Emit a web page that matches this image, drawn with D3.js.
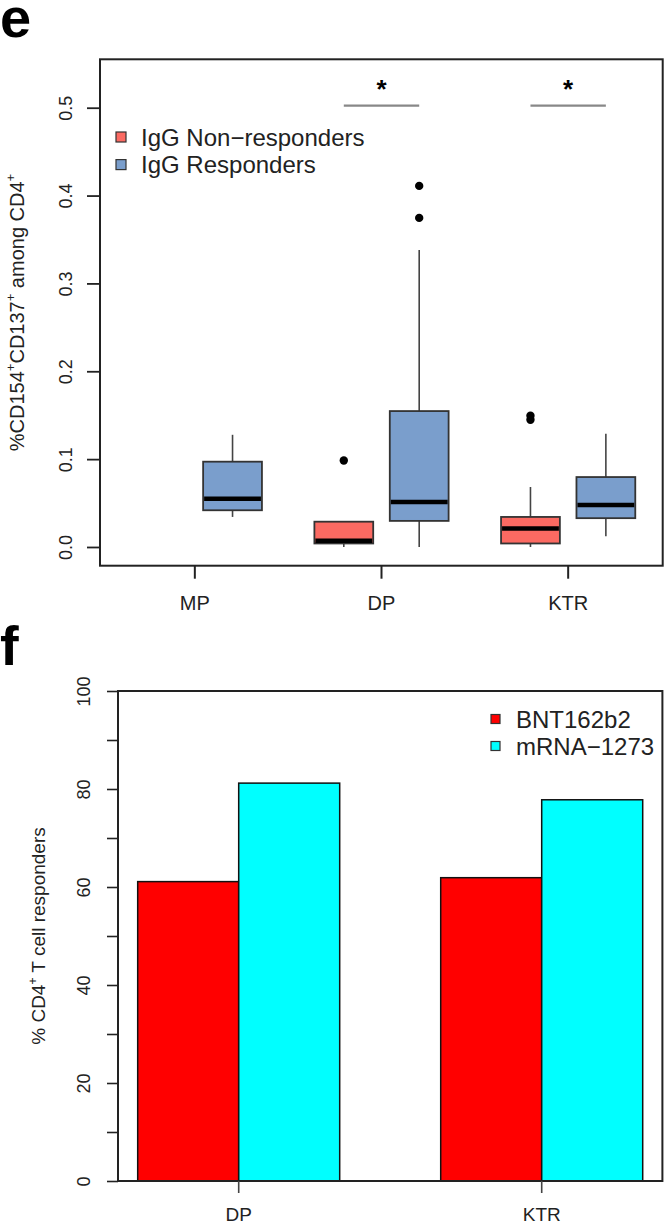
<!DOCTYPE html>
<html>
<head>
<meta charset="utf-8">
<script src="https://cdn.jsdelivr.net/npm/d3@7"></script>
<style>
  body { margin: 0; background: #fff; }
  svg { display: block; font-family: "Liberation Sans", Arial, sans-serif; }
</style>
</head>
<body>
<svg id="chart" width="666" height="1224"></svg>
<script>
// ---- panel e data (box plot) ----
var groups = ["MP", "DP", "KTR"];
var seriesNames = ["IgG Non-responders", "IgG Responders"];
var seriesColors = ["#fb6a62", "#7a9ecc"];

var boxGroup   = ["MP", "DP", "DP", "KTR", "KTR"];
var boxSeries  = [1, 0, 1, 0, 1];
var whiskerLow = [0.0342, 0.0, 0.0, 0.0, 0.0121];
var q1         = [0.0418, 0.0040, 0.0297, 0.0040, 0.0328];
var median     = [0.0549, 0.0072, 0.0513, 0.0211, 0.0477];
var q3         = [0.0971, 0.0288, 0.1547, 0.0342, 0.0796];
var whiskerHigh= [0.1277, 0.0288, 0.3381, 0.0683, 0.1290];
var outliers   = [[], [0.0985], [0.3746, 0.411], [0.1448, 0.1493], []];

var yTicksE = [0.0, 0.1, 0.2, 0.3, 0.4, 0.5];
var sigGroups = ["DP", "KTR"];
var sigLevel = 0.5;

// ---- panel f data (bars) ----
var vaccineGroups = ["DP", "KTR"];
var vaccines = ["BNT162b2", "mRNA-1273"];
var vaccineColors = ["#ff0000", "#00ffff"];
var bntValues  = [61.1, 61.9];
var mrnaValues = [81.2, 77.8];
var yTicksF = [0, 10, 20, 30, 40, 50, 60, 70, 80, 90, 100];

var svg = d3.select("#chart");

// panel letters
svg.append("text").attr("x", 0).attr("y", 37).attr("font-size", 56)
  .attr("font-weight", "bold").text("e");
svg.append("text").attr("x", 0).attr("y", 665).attr("font-size", 56)
  .attr("font-weight", "bold").text("f");

// ================= panel e =================
var e = { left: 100, right: 662.7, top: 59.3, bottom: 565.7 };

var xE = d3.scaleBand().domain(groups).range([101.5, 661.5]);
var subE = d3.scaleBand().domain([0, 1]).range([-75.4, 75.4]);
var yE = d3.scaleLinear().domain([-0.0213, 0.5551]).range([e.bottom, e.top]);
var boxW = subE.bandwidth() * 0.78;

var gE = svg.append("g");

function cx(i) {
  return xE(boxGroup[i]) + xE.bandwidth() / 2 + subE(boxSeries[i]) + subE.bandwidth() / 2;
}

var boxes = gE.selectAll(".box").data(boxGroup).enter().append("g").attr("class", "box");

// whiskers
boxes.append("line")
  .attr("x1", function (d, i) { return cx(i); }).attr("x2", function (d, i) { return cx(i); })
  .attr("y1", function (d, i) { return yE(whiskerHigh[i]); })
  .attr("y2", function (d, i) { return yE(q3[i]); })
  .attr("stroke", "#444").attr("stroke-width", 1.6);
boxes.append("line")
  .attr("x1", function (d, i) { return cx(i); }).attr("x2", function (d, i) { return cx(i); })
  .attr("y1", function (d, i) { return yE(q1[i]); })
  .attr("y2", function (d, i) { return yE(whiskerLow[i]); })
  .attr("stroke", "#444").attr("stroke-width", 1.6);

boxes.append("rect")
  .attr("x", function (d, i) { return cx(i) - boxW / 2; })
  .attr("width", boxW)
  .attr("y", function (d, i) { return yE(q3[i]); })
  .attr("height", function (d, i) { return yE(q1[i]) - yE(q3[i]); })
  .attr("fill", function (d, i) { return seriesColors[boxSeries[i]]; })
  .attr("stroke", "#333").attr("stroke-width", 1.8);

boxes.append("line")
  .attr("x1", function (d, i) { return cx(i) - boxW / 2 + 1; })
  .attr("x2", function (d, i) { return cx(i) + boxW / 2 - 1; })
  .attr("y1", function (d, i) { return yE(median[i]); })
  .attr("y2", function (d, i) { return yE(median[i]); })
  .attr("stroke", "#000").attr("stroke-width", 4.5);

boxes.each(function (d, i) {
  d3.select(this).selectAll("circle").data(outliers[i]).enter().append("circle")
    .attr("cx", cx(i)).attr("cy", function (v) { return yE(v); })
    .attr("r", 4.2).attr("fill", "#000");
});

// significance brackets
var sig = gE.selectAll(".sig").data(sigGroups).enter().append("g").attr("class", "sig");
sig.append("line")
  .attr("x1", function (g) { return xE(g) + xE.bandwidth() / 2 + subE(0) + subE.bandwidth() / 2; })
  .attr("x2", function (g) { return xE(g) + xE.bandwidth() / 2 + subE(1) + subE.bandwidth() / 2; })
  .attr("y1", yE(sigLevel) - 2).attr("y2", yE(sigLevel) - 2)
  .attr("stroke", "#888").attr("stroke-width", 2.2);
sig.append("text")
  .attr("x", function (g) { return xE(g) + xE.bandwidth() / 2; })
  .attr("y", yE(sigLevel) - 10)
  .attr("text-anchor", "middle").attr("font-size", 26).attr("font-weight", "bold")
  .text("*");

// frame
gE.append("rect").attr("x", e.left).attr("y", e.top)
  .attr("width", e.right - e.left).attr("height", e.bottom - e.top)
  .attr("fill", "none").attr("stroke", "#222").attr("stroke-width", 2);

// y axis
var yAxisE = gE.append("g").attr("transform", "translate(" + e.left + ",0)")
  .call(d3.axisLeft(yE).tickValues(yTicksE).tickSize(13).tickFormat(d3.format(".1f")));
yAxisE.select(".domain").remove();
yAxisE.selectAll("line").attr("stroke", "#222").attr("stroke-width", 1.8);
yAxisE.selectAll("text")
  .attr("x", 0).attr("y", -28).attr("dy", 0)
  .attr("transform", "rotate(-90)").attr("text-anchor", "middle")
  .attr("font-size", 18).attr("fill", "#222")
  .attr("font-family", "Liberation Sans, Arial, sans-serif");

// x axis
var xAxisE = gE.append("g").attr("transform", "translate(0," + e.bottom + ")")
  .call(d3.axisBottom(xE).tickSize(13).tickPadding(17));
xAxisE.select(".domain").remove();
xAxisE.selectAll("line").attr("stroke", "#222").attr("stroke-width", 2);
xAxisE.selectAll("text").attr("font-size", 20).attr("fill", "#222")
  .attr("font-family", "Liberation Sans, Arial, sans-serif");

// y title
var titleE = gE.append("text")
  .attr("transform", "translate(24," + ((e.top + e.bottom) / 2) + ") rotate(-90)")
  .attr("text-anchor", "middle").attr("font-size", 20).attr("fill", "#222");
titleE.append("tspan").text("%CD154");
titleE.append("tspan").attr("dy", -9).attr("font-size", 13).text("+");
titleE.append("tspan").attr("dy", 9).text("CD137");
titleE.append("tspan").attr("dy", -9).attr("font-size", 13).text("+");
titleE.append("tspan").attr("dy", 9).text(" among CD4");
titleE.append("tspan").attr("dy", -9).attr("font-size", 13).text("+");

// legend e
var legE = gE.selectAll(".legE").data(seriesNames).enter().append("g")
  .attr("transform", function (d, i) { return "translate(116," + (137 + i * 27.6) + ")"; });
legE.append("rect").attr("x", 0).attr("y", -5).attr("width", 10).attr("height", 10)
  .attr("fill", function (d, i) { return seriesColors[i]; })
  .attr("stroke", "#333").attr("stroke-width", 1.2);
legE.append("text").attr("x", 25).attr("y", 8.5).attr("font-size", 24).attr("fill", "#222")
  .text(function (d) { return d.replace("-", "\u2212"); });

// ================= panel f =================
var f = { left: 118, right: 662.4, top: 691, bottom: 1181 };

var xF = d3.scaleBand().domain(vaccineGroups).range([f.left, f.right])
  .paddingInner(1 / 3).paddingOuter(0.065);
var subF = d3.scaleBand().domain([0, 1]).range([0, xF.bandwidth()]);
var yF = d3.scaleLinear().domain([0, 100]).range([f.bottom, f.top]);

var gF = svg.append("g");
var valueSets = [bntValues, mrnaValues];

vaccines.forEach(function (v, s) {
  gF.selectAll(".bar" + s).data(vaccineGroups).enter().append("rect")
    .attr("x", function (g) { return xF(g) + subF(s); })
    .attr("width", subF.bandwidth())
    .attr("y", function (g, i) { return yF(valueSets[s][i]); })
    .attr("height", function (g, i) { return yF(0) - yF(valueSets[s][i]); })
    .attr("fill", vaccineColors[s])
    .attr("stroke", "#111").attr("stroke-width", 1.5);
});

// frame (left axis line, top, right, bottom)
gF.append("rect").attr("x", f.left).attr("y", f.top)
  .attr("width", f.right - f.left).attr("height", f.bottom - f.top)
  .attr("fill", "none").attr("stroke", "#222").attr("stroke-width", 2);

var yAxisF = gF.append("g").attr("transform", "translate(" + f.left + ",0)")
  .call(d3.axisLeft(yF).tickValues(yTicksF).tickSize(11)
    .tickFormat(function (d) { return d % 20 === 0 ? d : ""; }));
yAxisF.select(".domain").remove();
yAxisF.selectAll("line").attr("stroke", "#222").attr("stroke-width", 1.6);
yAxisF.selectAll("text")
  .attr("x", 0).attr("y", -28).attr("dy", 0)
  .attr("transform", "rotate(-90)").attr("text-anchor", "middle")
  .attr("font-size", 18).attr("fill", "#222")
  .attr("font-family", "Liberation Sans, Arial, sans-serif");

var xAxisF = gF.append("g").attr("transform", "translate(0," + f.bottom + ")")
  .call(d3.axisBottom(xF).tickSize(12).tickPadding(15));
xAxisF.select(".domain").remove();
xAxisF.selectAll("line").attr("stroke", "#444").attr("stroke-width", 1.6);
xAxisF.selectAll("text").attr("font-size", 19).attr("fill", "#222")
  .attr("font-family", "Liberation Sans, Arial, sans-serif");

var titleF = gF.append("text")
  .attr("transform", "translate(45," + ((f.top + f.bottom) / 2) + ") rotate(-90)")
  .attr("text-anchor", "middle").attr("font-size", 19).attr("fill", "#222");
titleF.append("tspan").text("% CD4");
titleF.append("tspan").attr("dy", -8).attr("font-size", 12).text("+");
titleF.append("tspan").attr("dy", 8).text(" T cell responders");

var legF = gF.selectAll(".legF").data(vaccines).enter().append("g")
  .attr("transform", function (d, i) { return "translate(491," + (719 + i * 27) + ")"; });
legF.append("rect").attr("x", 0).attr("y", -4.5).attr("width", 9).attr("height", 9)
  .attr("fill", function (d, i) { return vaccineColors[i]; })
  .attr("stroke", "#333").attr("stroke-width", 1.2);
legF.append("text").attr("x", 25).attr("y", 8.5).attr("font-size", 24).attr("fill", "#222")
  .text(function (d) { return d.replace("-", "\u2212"); });
</script>
</body>
</html>
